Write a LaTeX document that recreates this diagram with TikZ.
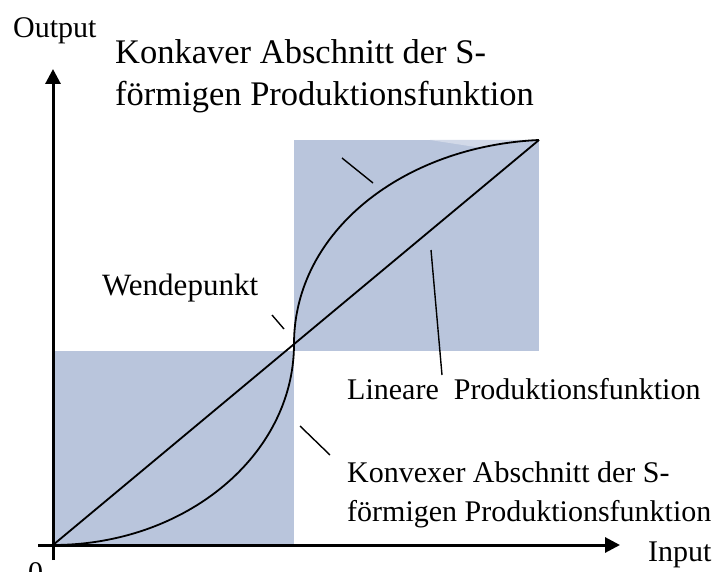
\documentclass[tikz,border=0pt]{standalone}
\usepackage{fontspec}
\setmainfont{Liberation Serif}
\usetikzlibrary{arrows.meta}
\definecolor{boxfill}{RGB}{185,197,220}
\definecolor{boxlight}{RGB}{210,217,232}
\begin{document}
\begin{tikzpicture}[x=1pt,y=-1pt,
  lbl/.style={inner sep=0pt, anchor=base west, font=\fontsize{30}{34}\selectfont},
  biglbl/.style={lbl, font=\fontsize{34.5}{40}\selectfont},
  axis/.style={line width=3pt, -{Triangle[length=15pt,width=15pt]}},
  curveline/.style={line width=1.8pt},
  pointer/.style={line width=1.4pt}]
\useasboundingbox (0,0) rectangle (720,572);

% key points
\coordinate (O) at (53,545);
\coordinate (P) at (294,344);
\coordinate (E) at (539,140);

% shaded sections
\fill[boxfill] (53,351) rectangle (294,545);
\fill[boxfill] (294,140) rectangle (539,351);
% paler sliver above the concave arc near the top right corner
\begin{scope}
  \clip (430,140) -- (539,140) -- (539,148) -- (482,148) -- cycle;
  \fill[boxlight] (P) .. controls (294,231) and (404,146) .. (E) -- (294,140) -- cycle;
\end{scope}

% axes
\coordinate (ybot) at (53,560);
\coordinate (ytop) at (53,69);
\coordinate (xleft) at (38,545);
\coordinate (xright) at (620,545);
\draw[axis] (ybot) -- (ytop);
\draw[axis] (xleft) -- (xright);

% linear production function
\draw[curveline] (O) -- (E);
% S-shaped production function
\draw[curveline] (O) .. controls (186,545) and (294,455) .. (P)
                     .. controls (294,231) and (404,146) .. (E);

% labels
\node[lbl] (output) at (13,38) {Output};
\node[lbl] (input) at (648,561) {Input};
\node[lbl] (zero) at (28,582) {0};
\node[biglbl] (konk1) at (115,64) {Konkaver Abschnitt der S-};
\node[biglbl] (konk2) at (115,106) {förmigen Produktionsfunktion};
\node[lbl, font=\fontsize{31}{36}\selectfont] (wende) at (102,295) {Wendepunkt};
\node[lbl] (lin) at (347,399) {Lineare\ \ Produktionsfunktion};
\node[lbl] (konv1) at (347,482) {Konvexer Abschnitt der S-};
\node[lbl] (konv2) at (347,521) {förmigen Produktionsfunktion};

% pointers
\coordinate (pk1) at (342,158);
\coordinate (pk2) at (373,183);
\draw[pointer] (pk1) -- (pk2);
\coordinate (pw1) at (272,315);
\coordinate (pw2) at (284,329);
\draw[pointer] (pw1) -- (pw2);
\coordinate (pl1) at (431,250);
\coordinate (pl2) at (442,375);
\draw[pointer] (pl1) -- (pl2);
\coordinate (pv1) at (300,426);
\coordinate (pv2) at (330,455);
\draw[pointer] (pv1) -- (pv2);
\end{tikzpicture}
\end{document}
